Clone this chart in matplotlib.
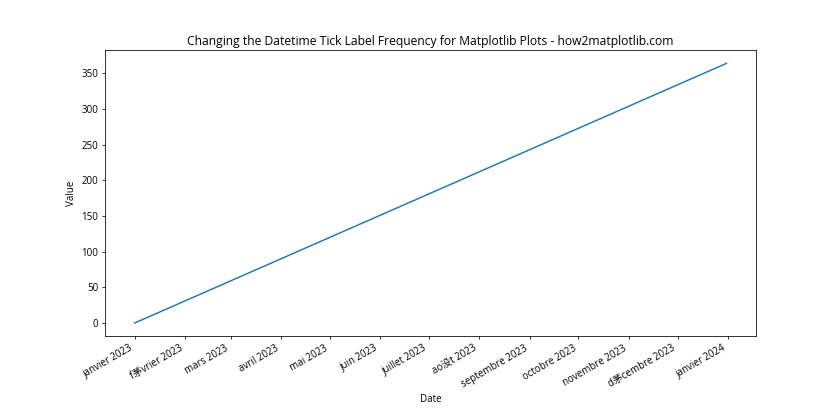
import matplotlib
matplotlib.use("Agg")
import matplotlib.pyplot as plt
import matplotlib.dates as mdates
from matplotlib.ticker import FuncFormatter
import numpy as np

plt.rcParams['font.family'] = ['Open Sans', 'Noto Sans CJK SC', 'DejaVu Sans']

dates = np.array(['2023-01-01', '2023-12-31'], dtype='datetime64[D]')
values = [0, 364]

month_labels = ['janvier', 'f茅vrier', 'mars', 'avril', 'mai', 'juin',
                'juillet', 'ao没t', 'septembre', 'octobre', 'novembre', 'd茅cembre']

title = "Changing the Datetime Tick Label Frequency for Matplotlib Plots - how2matplotlib.com"

fig, ax = plt.subplots(figsize=(12, 6), dpi=70)
ax.plot(dates, values, color='#1f77b4', linewidth=1.5)

ax.xaxis.set_major_locator(mdates.MonthLocator())

def fmt(x, pos):
    d = mdates.num2date(x)
    return f"{month_labels[d.month - 1]} {d.year}"

ax.xaxis.set_major_formatter(FuncFormatter(fmt))
ax.set_title(title, fontsize=12.5)
ax.set_xlabel('Date', fontsize=10)
ax.set_ylabel('Value', fontsize=10)
ax.tick_params(labelsize=10)
fig.autofmt_xdate()

fig.savefig('out.png', dpi=70)
